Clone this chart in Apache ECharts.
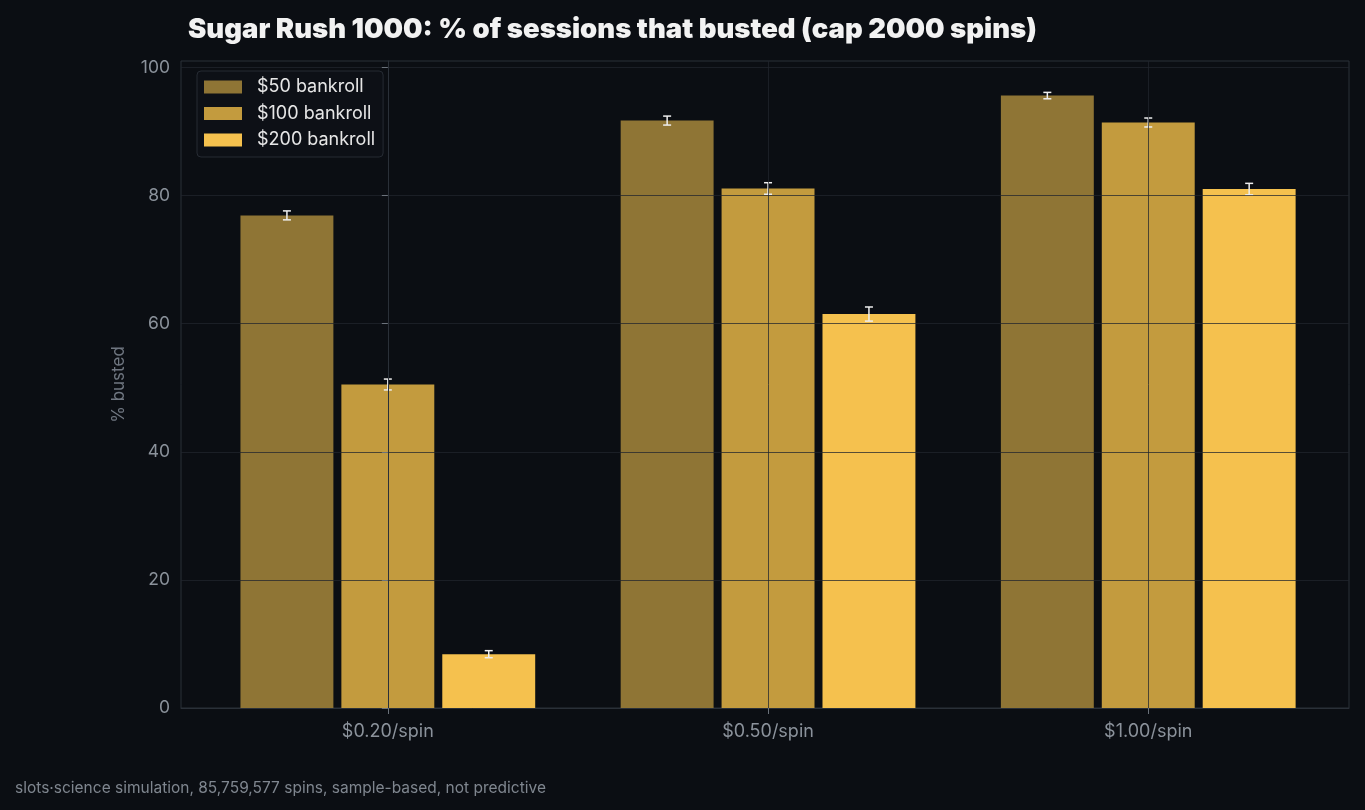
<!DOCTYPE html>
<html>
<head>
<meta charset="utf-8">
<script src="https://cdn.jsdelivr.net/npm/echarts@6/dist/echarts.min.js"></script>
<style>
  html, body { margin: 0; padding: 0; background: #0b0e13; }
  #chart { width: 1365px; height: 810px; }
</style>
</head>
<body>
<div id="chart"></div>
<script>
// data
const stakes = ["$0.20/spin", "$0.50/spin", "$1.00/spin"];
const bankrolls = ["$50 bankroll", "$100 bankroll", "$200 bankroll"];
const busted50 = [76.9, 91.7, 95.6];
const busted100 = [50.5, 81.1, 91.4];
const busted200 = [8.4, 61.5, 81.0];
const err50 = [0.7, 0.7, 0.5];
const err100 = [0.85, 0.9, 0.7];
const err200 = [0.55, 1.1, 0.9];
const yTicks = [0, 20, 40, 60, 80, 100];
const footer = "slots·science simulation, 85,759,577 spins, sample-based, not predictive";

const colors = ["#8f7535", "#c39b3e", "#f5c14e"];
const values = [busted50, busted100, busted200];
const errs = [err50, err100, err200];
const offsets = [-0.2654, 0, 0.2654];
const barW = 0.2444;
const gridLine = "rgba(34,38,45,0.75)";
const labelCol = "#8b929b";

const myChart = echarts.init(document.getElementById("chart"));

const series = bankrolls.map((name, s) => ({
    name: name,
    type: "custom",
    itemStyle: { color: colors[s] },
    z: 2,
    data: values[s].map((v, i) => [i, v, errs[s][i]]),
    renderItem: (params, api) => {
        const x = api.value(0) + offsets[s];
        const v = api.value(1);
        const e = api.value(2);
        const tl = api.coord([x - barW / 2, v]);
        const br = api.coord([x + barW / 2, 0]);
        const lo = api.coord([x, v - e]);
        const hi = api.coord([x, v + e]);
        const cap = 4;
        const errStyle = { stroke: "#eeeeee", lineWidth: 1.5 };
        return {
            type: "group",
            children: [
                { type: "rect", shape: { x: tl[0], y: tl[1], width: br[0] - tl[0], height: br[1] - tl[1] },
                  style: { fill: colors[s] } },
                { type: "line", shape: { x1: lo[0], y1: lo[1], x2: hi[0], y2: hi[1] }, style: errStyle, z2: 5 },
                { type: "line", shape: { x1: lo[0] - cap, y1: lo[1], x2: lo[0] + cap, y2: lo[1] }, style: errStyle, z2: 5 },
                { type: "line", shape: { x1: hi[0] - cap, y1: hi[1], x2: hi[0] + cap, y2: hi[1] }, style: errStyle, z2: 5 }
            ]
        };
    }
}));

const option = {
    backgroundColor: "#0b0e13",
    animation: false,
    title: [{
        text: "Sugar Rush 1000: % of sessions that busted (cap 2000 spins)",
        left: 183,
        top: 11,
        textStyle: { fontFamily: "Inter", fontWeight: 900, fontSize: 27.5, color: "#f2f2f2" }
    }, {
        text: footer,
        left: 10,
        top: 775,
        textStyle: { fontFamily: "Inter", fontWeight: "normal", fontSize: 15.5, color: "#7f868f" }
    }],
    legend: {
        orient: "vertical",
        left: 197,
        top: 71,
        icon: "rect",
        itemWidth: 38,
        itemHeight: 13,
        itemGap: 8.5,
        padding: [7, 8, 8, 7],
        backgroundColor: "#0d1016",
        borderColor: "#262b33",
        borderWidth: 1,
        borderRadius: 4,
        textStyle: { fontFamily: "Inter", fontSize: 18, color: "#e6e6e6", padding: [0, 0, 0, 10] },
        data: bankrolls
    },
    grid: {
        left: 181, right: 16, top: 61, bottom: 102,
        show: true, borderColor: "#2a3038", borderWidth: 1, backgroundColor: "transparent"
    },
    xAxis: {
        type: "value",
        min: -0.544,
        max: 2.528,
        z: 5,
        axisLine: { show: true, lineStyle: { color: "#2a3038", width: 1 } },
        axisTick: { show: true, customValues: [0, 1, 2], length: 6, lineStyle: { color: "#6b727b" } },
        axisLabel: {
            customValues: [0, 1, 2],
            formatter: v => stakes[Math.round(v)],
            margin: 15,
            fontFamily: "Inter", fontSize: 18, color: labelCol
        },
        splitLine: { show: true, lineStyle: { color: gridLine, width: 1 } }
    },
    yAxis: {
        type: "value",
        min: 0,
        max: 101,
        interval: 20,
        z: 5,
        name: "% busted",
        nameLocation: "middle",
        nameGap: 54,
        nameTextStyle: { fontFamily: "Inter", fontSize: 17, color: "#6f7680" },
        axisLine: { show: true, lineStyle: { color: "#2a3038", width: 1 } },
        axisTick: { show: true, customValues: yTicks, length: 6, lineStyle: { color: "#6b727b" } },
        axisLabel: {
            customValues: yTicks,
            margin: 11,
            fontFamily: "Inter", fontSize: 17.5, color: labelCol
        },
        splitLine: { show: true, lineStyle: { color: gridLine, width: 1 } }
    },
    series: series
};

myChart.setOption(option);
</script>
</body>
</html>
